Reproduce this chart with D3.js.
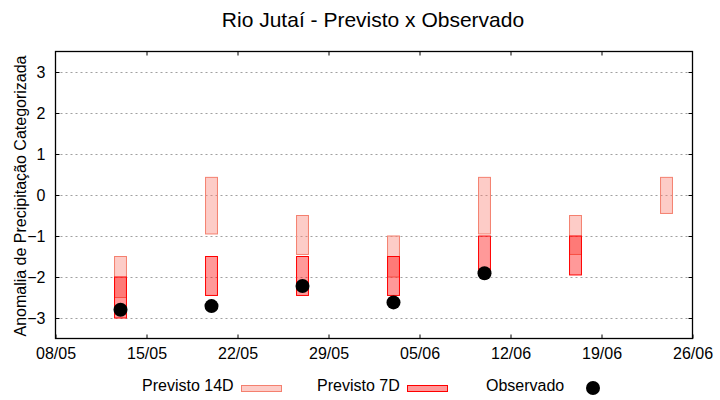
<!DOCTYPE html>
<html>
<head>
<meta charset="utf-8">
<script src="https://cdn.jsdelivr.net/npm/d3@7"></script>
<style>
  body { margin: 0; background: #fff; }
  svg { font-family: 'Liberation Sans', Arial, sans-serif; }
  .tick text { font-size: 16px; fill: #000; }
  .tick line { stroke: #000; }
</style>
</head>
<body>
<svg id="chart" width="720" height="400"></svg>
<script>
  // dates of each forecast (dd/mm)
  const dates = ['13/05', '20/05', '27/05', '03/06', '10/06', '17/06', '24/06'];
  const prev14Top = [-1.5, 0.43, -0.5, -1.0, 0.43, -0.5, 0.43];
  const prev14Bottom = [-2.5, -0.95, -1.45, -2.0, -0.95, -1.45, -0.45];
  const prev7Top = [-2.0, -1.5, -1.5, -1.5, -1.0, -1.0, null];
  const prev7Bottom = [-3.0, -2.45, -2.45, -2.45, -1.95, -1.95, null];
  const observed = [-2.8, -2.71, -2.22, -2.62, -1.91, null, null];
  const xTickLabels = ['08/05', '15/05', '22/05', '29/05', '05/06', '12/06', '19/06', '26/06'];
  const yTicks = [-3, -2, -1, 0, 1, 2, 3];

  const parse = s => d3.timeParse('%d/%m/%Y')(s + '/2024');
  const fmt = d3.timeFormat('%d/%m');

  const svg = d3.select('#chart');
  const plotLeft = 55.5, plotRight = 692.5, plotTop = 51.5, plotBottom = 338.5;

  const x = d3.scaleTime()
    .domain([parse(xTickLabels[0]), parse(xTickLabels[xTickLabels.length - 1])])
    .range([plotLeft, plotRight]);
  const y = d3.scaleLinear().domain([-3.5, 3.5]).range([plotBottom, plotTop]);

  // grid
  svg.append('g')
    .selectAll('line')
    .data(yTicks)
    .enter()
    .append('line')
    .attr('x1', plotLeft)
    .attr('x2', plotRight)
    .attr('y1', d => Math.round(y(d)) + 0.5)
    .attr('y2', d => Math.round(y(d)) + 0.5)
    .attr('stroke', '#a0a0a0')
    .attr('stroke-width', 1)
    .attr('stroke-dasharray', '2,3');

  const xTicks = xTickLabels.map(parse);

  svg.append('g')
    .attr('transform', `translate(0,${plotBottom})`)
    .call(d3.axisBottom(x).tickValues(xTicks).tickFormat(fmt).tickSizeInner(-4).tickSizeOuter(0).tickPadding(9));
  svg.append('g')
    .attr('transform', `translate(0,${plotTop})`)
    .call(d3.axisTop(x).tickValues(xTicks.slice(1, -1)).tickFormat('').tickSizeInner(-4).tickSizeOuter(0));
  svg.append('g')
    .attr('transform', `translate(${plotLeft},0)`)
    .call(d3.axisLeft(y).tickValues(yTicks).tickFormat(d3.format('d')).tickSizeInner(-4).tickSizeOuter(0).tickPadding(10));
  svg.append('g')
    .attr('transform', `translate(${plotRight},0)`)
    .call(d3.axisRight(y).tickValues(yTicks).tickFormat('').tickSizeInner(-4).tickSizeOuter(0));
  svg.selectAll('.domain').remove();
  svg.selectAll('g[font-family]').attr('font-family', null).attr('font-size', null);

  svg.append('rect')
    .attr('x', plotLeft)
    .attr('y', plotTop)
    .attr('width', plotRight - plotLeft)
    .attr('height', plotBottom - plotTop)
    .attr('fill', 'none')
    .attr('stroke', '#000')
    .attr('stroke-width', 1.3);

  const rows = dates.map((d, i) => ({
    date: parse(d),
    t14: prev14Top[i], b14: prev14Bottom[i],
    t7: prev7Top[i], b7: prev7Bottom[i],
    obs: observed[i]
  }));

  const halfW = d => (x(d3.timeHour.offset(d, 11)) - x(d));

  svg.append('g')
    .selectAll('rect')
    .data(rows.filter(d => d.t14 != null))
    .enter()
    .append('rect')
    .attr('x', d => x(d.date) - halfW(d.date))
    .attr('width', d => 2 * halfW(d.date))
    .attr('y', d => y(d.t14))
    .attr('height', d => y(d.b14) - y(d.t14))
    .attr('fill', 'rgba(250,128,114,0.4)')
    .attr('stroke', '#f4806f')
    .attr('stroke-width', 1);

  svg.append('g')
    .selectAll('rect')
    .data(rows.filter(d => d.t7 != null))
    .enter()
    .append('rect')
    .attr('x', d => x(d.date) - halfW(d.date))
    .attr('width', d => 2 * halfW(d.date))
    .attr('y', d => y(d.t7))
    .attr('height', d => y(d.b7) - y(d.t7))
    .attr('fill', 'rgba(255,0,0,0.4)')
    .attr('stroke', '#ff0000')
    .attr('stroke-width', 1);

  svg.append('g')
    .selectAll('circle')
    .data(rows.filter(d => d.obs != null))
    .enter()
    .append('circle')
    .attr('cx', d => x(d.date))
    .attr('cy', d => y(d.obs))
    .attr('r', 7)
    .attr('fill', '#000');

  // title and axis label
  svg.append('text')
    .attr('x', 373)
    .attr('y', 27)
    .attr('text-anchor', 'middle')
    .attr('font-size', 21)
    .text('Rio Jutaí - Previsto x Observado');

  svg.append('text')
    .attr('transform', 'translate(25.5,196) rotate(-90)')
    .attr('text-anchor', 'middle')
    .attr('font-size', 16)
    .text('Anomalia de Precipitação Categorizada');

  // legend
  const legend = svg.append('g').attr('font-size', 16);
  legend.append('text').attr('x', 142).attr('y', 391).text('Previsto 14D');
  legend.append('rect').attr('x', 241.5).attr('y', 385.5).attr('width', 40).attr('height', 6)
    .attr('fill', 'rgba(250,128,114,0.4)').attr('stroke', '#f4806f');
  legend.append('text').attr('x', 317).attr('y', 391).text('Previsto 7D');
  legend.append('rect').attr('x', 407.5).attr('y', 385.5).attr('width', 40).attr('height', 6)
    .attr('fill', 'rgba(255,0,0,0.4)').attr('stroke', '#ff0000');
  legend.append('text').attr('x', 486).attr('y', 391).text('Observado');
  legend.append('circle').attr('cx', 593).attr('cy', 388).attr('r', 7).attr('fill', '#000');
</script>
</body>
</html>
